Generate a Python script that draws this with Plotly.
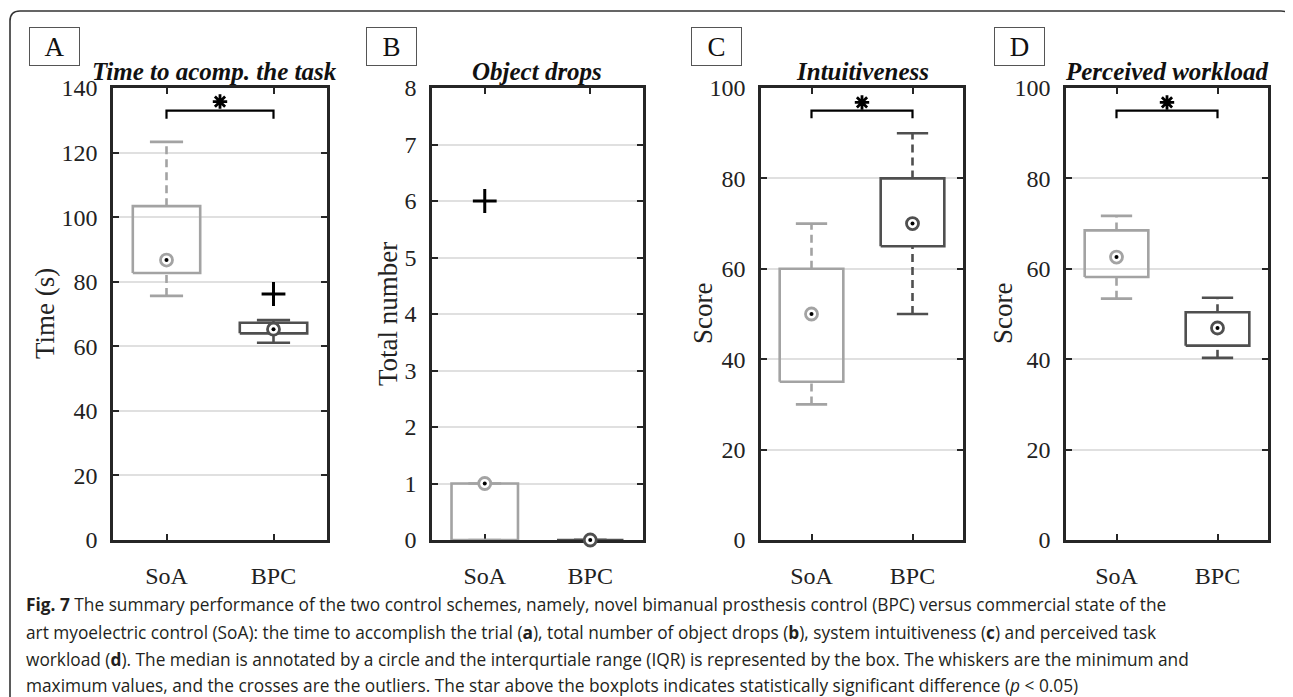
import plotly.graph_objects as go

W, H = 1293, 697

# ---------------- data ----------------
categories = ["SoA", "BPC"]

titles = ["Time to acomp. the task", "Object drops", "Intuitiveness", "Perceived workload"]
panel_letters = ["A", "B", "C", "D"]
y_titles = ["Time (s)", "Total number", "Score", "Score"]

# A: time to accomplish the task (s)
time_min = [75.6, 61.1]
time_q1 = [82.7, 64.0]
time_med = [86.7, 65.3]
time_q3 = [103.4, 67.3]
time_max = [123.3, 68.1]
time_outliers = [[], [76.2]]

# B: object drops
drops_min = [0, 0]
drops_q1 = [0, 0]
drops_med = [1, 0]
drops_q3 = [1, 0]
drops_max = [1, 0]
drops_outliers = [[6], []]

# C: intuitiveness score
intu_min = [30, 50]
intu_q1 = [35, 65]
intu_med = [50, 70]
intu_q3 = [60, 80]
intu_max = [70, 90]
intu_outliers = [[], []]

# D: perceived workload score
work_min = [53.4, 40.3]
work_q1 = [58.2, 43.0]
work_med = [62.6, 46.9]
work_q3 = [68.5, 50.4]
work_max = [71.7, 53.6]
work_outliers = [[], []]

# y-axis ranges / ticks
y_max = [140, 8, 100, 100]
y_dtick = [20, 1, 20, 20]

# significance brackets (None = not significant)
sig_bracket_y = [133, None, 95, 95]
sig_bracket_end_y = [130.5, None, 93.3, 93.3]
sig_star_y = [135.8, None, 96.8, 96.8]

caption_lines = [
    "<b>Fig. 7</b> The summary performance of the two control schemes, namely, novel bimanual prosthesis control (BPC) versus commercial state of the",
    "art myoelectric control (SoA): the time to accomplish the trial (<b>a</b>), total number of object drops (<b>b</b>), system intuitiveness (<b>c</b>) and perceived task",
    "workload (<b>d</b>). The median is annotated by a circle and the interqurtiale range (IQR) is represented by the box. The whiskers are the minimum and",
    "maximum values, and the crosses are the outliers. The star above the boxplots indicates statistically significant difference (<i>p</i> &lt; 0.05)",
]

panels = [
    (time_min, time_q1, time_med, time_q3, time_max, time_outliers),
    (drops_min, drops_q1, drops_med, drops_q3, drops_max, drops_outliers),
    (intu_min, intu_q1, intu_med, intu_q3, intu_max, intu_outliers),
    (work_min, work_q1, work_med, work_q3, work_max, work_outliers),
]

# ---------------- style / layout ----------------
SERIF = "Liberation Serif, Times New Roman, serif"
CAPFONT = "Open Sans, Noto Sans, sans-serif"
box_colors = ["#a3a3a3", "#4f4f4f"]
AXC = "#262626"

OFF = 8  # page body offset
left_px = [113, 432, 761, 1066]
right_px = [327, 643, 963, 1268]
title_cx = [214, 537, 862, 1167]
top_px, bottom_px = 88, 540
xpos = [1, 2]
box_hw = 0.315
cap_hw = 0.155


def px(x):
    return (x - OFF) / W


def py(y):
    return 1 - (y - OFF) / H


fig = go.Figure()
layout = dict(
    width=W, height=H,
    margin=dict(l=0, r=0, t=0, b=0, autoexpand=False),
    paper_bgcolor="white", plot_bgcolor="white",
    showlegend=False,
    annotations=[], shapes=[],
)

for i, (mn, q1, md, q3, mx, outl) in enumerate(panels):
    k = "" if i == 0 else str(i + 1)
    xa, ya = "x" + k, "y" + k
    for j in range(2):
        c = xpos[j]
        col = box_colors[j]
        fig.add_trace(go.Scatter(
            x=[c - box_hw, c + box_hw, c + box_hw, c - box_hw, c - box_hw],
            y=[q1[j], q1[j], q3[j], q3[j], q1[j]],
            mode="lines", line=dict(color=col, width=2.6),
            xaxis=xa, yaxis=ya, cliponaxis=False, hoverinfo="skip"))
        fig.add_trace(go.Scatter(
            x=[c, c, None, c, c], y=[q3[j], mx[j], None, mn[j], q1[j]],
            mode="lines", line=dict(color=col, width=2.6, dash="8px,5px"),
            xaxis=xa, yaxis=ya, cliponaxis=False, hoverinfo="skip"))
        fig.add_trace(go.Scatter(
            x=[c - cap_hw, c + cap_hw, None, c - cap_hw, c + cap_hw],
            y=[mx[j], mx[j], None, mn[j], mn[j]],
            mode="lines", line=dict(color=col, width=2.6),
            xaxis=xa, yaxis=ya, cliponaxis=False, hoverinfo="skip"))
        fig.add_trace(go.Scatter(
            x=[c], y=[md[j]], mode="markers",
            marker=dict(symbol="circle", size=12, color="white",
                        line=dict(color=col, width=2.8)),
            xaxis=xa, yaxis=ya, cliponaxis=False, hoverinfo="skip"))
        fig.add_trace(go.Scatter(
            x=[c], y=[md[j]], mode="markers",
            marker=dict(symbol="circle", size=4, color="black"),
            xaxis=xa, yaxis=ya, cliponaxis=False, hoverinfo="skip"))
        if outl[j]:
            fig.add_trace(go.Scatter(
                x=[c] * len(outl[j]), y=outl[j], mode="markers",
                marker=dict(symbol="cross-thin", size=17, color="black",
                            line=dict(color="black", width=3)),
                xaxis=xa, yaxis=ya, cliponaxis=False, hoverinfo="skip"))
    if sig_bracket_y[i] is not None:
        b, e = sig_bracket_y[i], sig_bracket_end_y[i]
        fig.add_trace(go.Scatter(
            x=[xpos[0], xpos[0], xpos[1], xpos[1]], y=[e, b, b, e],
            mode="lines", line=dict(color="black", width=2.2),
            xaxis=xa, yaxis=ya, hoverinfo="skip"))
        fig.add_trace(go.Scatter(
            x=[(xpos[0] + xpos[1]) / 2], y=[sig_star_y[i]], mode="markers",
            marker=dict(symbol="asterisk-open", size=12, color="black",
                        line=dict(color="black", width=2.8)),
            xaxis=xa, yaxis=ya, cliponaxis=False, hoverinfo="skip"))

    dom_x = [px(left_px[i]), px(right_px[i])]
    dom_y = [py(bottom_px), py(top_px)]
    layout["xaxis" + k] = dict(
        domain=dom_x, range=[0.5, 2.5], anchor=ya, automargin=False,
        tickmode="array", tickvals=xpos, ticktext=categories,
        ticks="inside", ticklen=6, tickwidth=2, tickcolor=AXC,
        showline=True, linewidth=2.6, linecolor=AXC, mirror="ticks",
        showgrid=False, zeroline=False, layer="below traces",
        ticklabelstandoff=12,
        tickfont=dict(family=SERIF, size=24, color="#222"),
        fixedrange=True)
    layout["yaxis" + k] = dict(
        domain=dom_y, range=[0, y_max[i]], anchor=xa, automargin=False,
        tick0=0, dtick=y_dtick[i],
        ticks="inside", ticklen=6, tickwidth=2, tickcolor=AXC,
        showline=True, linewidth=2.6, linecolor=AXC, mirror="ticks",
        showgrid=True, gridcolor="#e0e0e0", gridwidth=1.6,
        zeroline=False, layer="below traces",
        ticklabelstandoff=8,
        tickfont=dict(family=SERIF, size=24, color="#222"),
        fixedrange=True)

    layout["annotations"].append(dict(
        text="<b><i>%s</i></b>" % titles[i], x=px(title_cx[i]), y=py(72),
        xref="paper", yref="paper", xanchor="center", yanchor="middle",
        showarrow=False, font=dict(family=SERIF, size=25, color="#111")))
    ytitle_x = [45, 388, 703, 1003][i]
    layout["annotations"].append(dict(
        text=y_titles[i], x=px(ytitle_x), y=py((top_px + bottom_px) / 2),
        xref="paper", yref="paper", xanchor="center", yanchor="middle",
        textangle=-90, showarrow=False,
        font=dict(family=SERIF, size=27, color="#222")))
    lbl_left = [29, 366, 691, 994][i]
    layout["annotations"].append(dict(
        text=panel_letters[i], x=px(lbl_left + 25.5), y=py(46.5),
        xref="paper", yref="paper", xanchor="center", yanchor="middle",
        width=49, height=37, align="center", valign="middle",
        bordercolor="#555", borderwidth=1, borderpad=0,
        showarrow=False, font=dict(family=SERIF, size=27, color="#111")))

cap_y = [604, 632, 659, 685]
for t, yy in zip(caption_lines, cap_y):
    layout["annotations"].append(dict(
        text=t, x=px(24), y=py(yy), xref="paper", yref="paper",
        xanchor="left", yanchor="middle", showarrow=False, align="left",
        font=dict(family=CAPFONT, size=17.3, color="#231f20")))

r = 10
L, T, R, B = 10, 11, 1291, 720
path = ("M {l},{b} L {l},{t1} Q {l},{t} {l1},{t} L {r1},{t} Q {r},{t} {r},{t1} L {r},{b}"
        .format(l=px(L), b=py(B), t1=py(T + r), t=py(T), l1=px(L + r),
                r1=px(R - r), r=px(R)))
layout["shapes"].append(dict(type="path", path=path, xref="paper", yref="paper",
                             line=dict(color="#333", width=1.6)))

fig.update_layout(**layout)
fig.write_html("out.html")
